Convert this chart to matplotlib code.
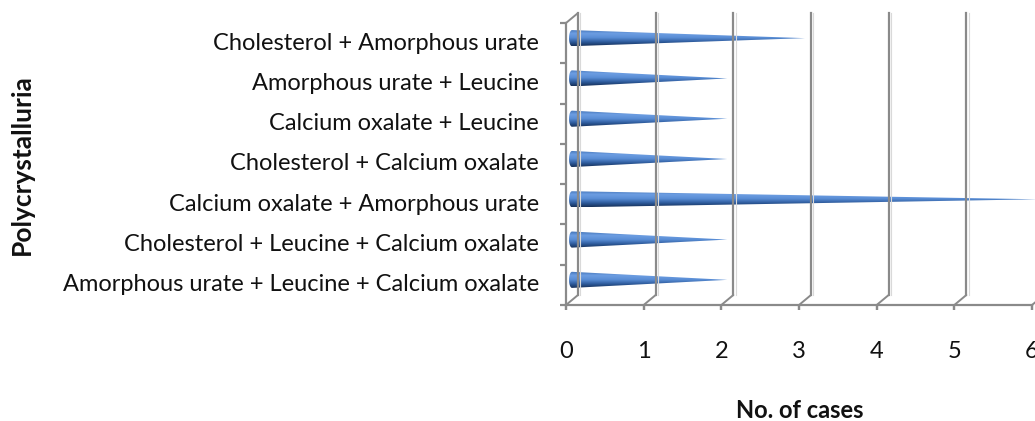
import numpy as np
import matplotlib
matplotlib.use("Agg")
import matplotlib.pyplot as plt
from matplotlib.patches import Polygon
from matplotlib.colors import LinearSegmentedColormap
import matplotlib.transforms as mtransforms

# data (bottom to top, as drawn)
categories = [
    "Amorphous urate + Leucine + Calcium oxalate",
    "Cholesterol + Leucine + Calcium oxalate",
    "Calcium oxalate + Amorphous urate",
    "Cholesterol + Calcium oxalate",
    "Calcium oxalate + Leucine",
    "Amorphous urate + Leucine",
    "Cholesterol + Amorphous urate",
]
cases = [2, 2, 6, 2, 2, 2, 3]
xticks = [0, 1, 2, 3, 4, 5, 6]

plt.rcParams['font.family'] = ['Lato', 'DejaVu Sans']

W, H = 1035, 421
fig = plt.figure(figsize=(W / 100, H / 100), dpi=100)

# front plane: x=0 at px 566, x=6 at px 1032; y from px 305 (bottom) to 23 (top)
px_per_unit = (1032 - 566) / 6.0
ax = fig.add_axes([566 / W, 116 / H, (W - 566) / W, 282 / H])
ax.axis('off')

def shifted(dx, dy):
    return ax.transData + mtransforms.ScaledTranslation(dx / 100, dy / 100, fig.dpi_scale_trans)

back = shifted(12, 10)
mid = shifted(6, 5)
grid_col = '#8a8a8a'
ytop = len(categories) - 0.5

# back wall gridlines
for x in xticks:
    ax.plot([x, x], [-0.5, ytop], color=grid_col, lw=1.6, transform=back, clip_on=False)
    ax.plot([x + 0.03, x + 0.03], [-0.5, ytop], color='#d9d9d9', lw=0.8, transform=back, clip_on=False)

# floor depth lines
for x in xticks:
    ax.annotate('', xy=(x, -0.5), xycoords=back, xytext=(x, -0.5), textcoords='data',
                arrowprops=dict(arrowstyle='-', color=grid_col, lw=1.4, shrinkA=0, shrinkB=0),
                annotation_clip=False)
ax.annotate('', xy=(0, ytop), xycoords=back, xytext=(0, ytop), textcoords='data',
            arrowprops=dict(arrowstyle='-', color=grid_col, lw=1.4, shrinkA=0, shrinkB=0),
            annotation_clip=False)

# front axis lines
ax.plot([0, 6], [-0.5, -0.5], color=grid_col, lw=1.6, clip_on=False)
ax.plot([0, 0], [-0.5, ytop], color=grid_col, lw=1.6, clip_on=False)
for x in xticks:
    ax.plot([x, x], [-0.5, -0.5], marker=[(0, 0), (0, -1)], ms=7, mew=1.6,
            color=grid_col, clip_on=False)
for i in range(len(categories) + 1):
    ax.plot([0], [i - 0.5], marker=[(0, 0), (-1, 0)], ms=9, mew=1.6,
            color=grid_col, clip_on=False)

# cones
cone_cmap = LinearSegmentedColormap.from_list('cone', [
    (0.0, '#3f70b4'), (0.25, '#6d9ee2'), (0.5, '#5a8ed6'),
    (0.75, '#2f5d9f'), (1.0, '#163059')])
grad = np.linspace(0, 1, 64).reshape(-1, 1)
h = 0.2
base = 3 / px_per_unit
for i, v in enumerate(cases):
    t = np.linspace(np.pi / 2, 3 * np.pi / 2, 20)
    arc = np.column_stack([base * np.cos(t), i + h * np.sin(t)])
    pts = np.vstack([arc, [[v, i]]])
    poly = Polygon(pts, closed=True, fill=False, lw=0, transform=mid, clip_on=False)
    ax.add_patch(poly)
    im = ax.imshow(grad, cmap=cone_cmap, aspect='auto', extent=[-base, v, i - h, i + h],
                   origin='upper', transform=mid, interpolation='bilinear')
    im.set_clip_on(True)
    im.set_clip_box(fig.bbox)
    im.set_clip_path(poly)

ax.set_xlim(0, (W - 566) / px_per_unit)
ax.set_ylim(-0.5, ytop)

# category labels
for i, c in enumerate(categories):
    ax.text(-27 / px_per_unit, i, c, ha='right', va='center', fontsize=17, color='#111111')

# x tick labels
for x in xticks:
    ax.annotate(str(x), xy=(x, -0.5), xytext=(0, -46), textcoords='offset pixels',
                ha='center', va='center', fontsize=17, color='#111111', annotation_clip=False)

fig.text(800 / W, 1 - 410 / H, 'No. of cases', ha='center', va='center',
         fontsize=17, fontweight='bold', color='#111111')
fig.text(22 / W, 1 - 165 / H, 'Polycrystalluria', ha='center', va='center', rotation=90,
         fontsize=19, fontweight='bold', color='#111111')

fig.savefig('out.png', dpi=100)
